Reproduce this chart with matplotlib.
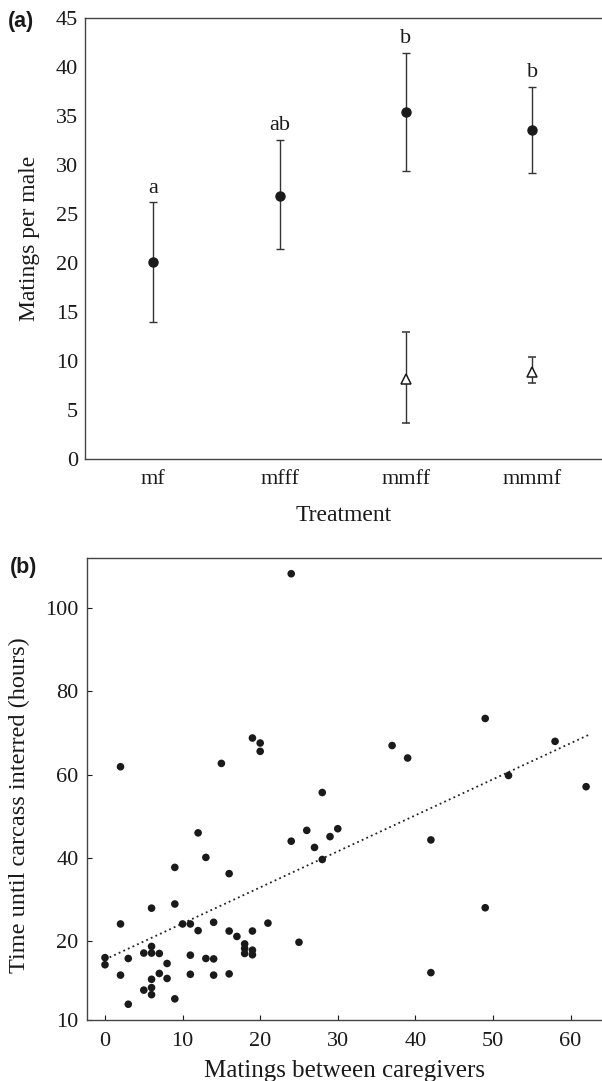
import matplotlib.pyplot as plt
import numpy as np

# ---- panel (a): matings per male by treatment ----
treatments = ['mf', 'mfff', 'mmff', 'mmmf']
male_mean = [20.1, 26.9, 35.4, 33.6]
male_lo = [14.05, 21.4, 29.4, 29.2]
male_hi = [26.25, 32.6, 41.45, 38.0]
sig_letters = ['a', 'ab', 'b', 'b']
letter_y = [27.2, 33.6, 42.5, 39.0]

tri_treatments = ['mmff', 'mmmf']
tri_mean = [8.2, 8.9]
tri_lo = [3.75, 7.8]
tri_hi = [13.0, 10.4]

# ---- panel (b): time to inter carcass vs matings between caregivers ----
matings = [0, 0, 2, 2, 2, 3, 3, 5, 5, 6, 6, 6, 6, 6, 6, 7, 7, 8, 8,
           9, 9, 9, 10, 11, 11, 11, 12, 12, 13, 13, 14, 14, 14, 15,
           16, 16, 16, 17, 18, 18, 18, 19, 19, 19, 19, 20, 20, 21,
           24, 24, 25, 26, 27, 28, 28, 29, 30, 37, 39, 42, 42, 49, 49,
           52, 58, 62]
hours = [16.0, 14.3, 61.9, 24.1, 11.8, 15.8, 4.8, 17.1, 8.2, 27.9, 18.7,
         17.1, 10.8, 8.8, 7.1, 17.0, 12.2, 14.6, 11.0, 37.7, 28.9, 6.1,
         24.1, 24.1, 16.6, 12.0, 46.0, 22.5, 40.1, 15.8, 24.5, 15.7, 11.8,
         62.7, 36.2, 22.4, 12.1, 21.1, 19.3, 18.2, 17.0, 68.8, 22.4, 17.8,
         16.7, 67.6, 65.6, 24.3, 108.3, 44.0, 19.7, 46.6, 42.5, 55.7, 39.6,
         45.1, 47.0, 67.0, 64.0, 44.3, 12.4, 73.5, 28.0, 59.8, 68.0, 57.1]

b_ytick_labels = ['10', '20', '40', '60', '80', '100']
b_xticks = [0, 10, 20, 30, 40, 50, 60]

plt.rcParams['font.family'] = ['Liberation Serif', 'DejaVu Serif']
ink = '#1a1a1a'
spine_col = '#444444'

fig = plt.figure(figsize=(6.02, 10.81), dpi=100)
ax1 = fig.add_axes([0.141, 0.5751, 0.859, 0.4082])
ax2 = fig.add_axes([0.1445, 0.0560, 0.8555, 0.4275])

# panel (a)
xpos = {t: i + 1 for i, t in enumerate(treatments)}
xa = np.array([xpos[t] for t in treatments])
mean = np.array(male_mean)
ax1.errorbar(xa, mean, yerr=[mean - np.array(male_lo), np.array(male_hi) - mean],
             fmt='o', ms=6.5, color=ink, ecolor='#333333', elinewidth=1.0,
             capsize=3, capthick=1.0)
xt = np.array([xpos[t] for t in tri_treatments])
tm = np.array(tri_mean)
ax1.errorbar(xt, tm, yerr=[tm - np.array(tri_lo), np.array(tri_hi) - tm],
             fmt='^', ms=7, mfc='white', mec=ink, mew=1.1, ecolor='#333333',
             elinewidth=1.0, capsize=3, capthick=1.0, zorder=3)
for x, y, s in zip(xa, letter_y, sig_letters):
    ax1.text(x, y, s, ha='center', va='baseline', fontsize=16, color=ink)

ax1.set_xlim(0.46, 4.55)
ax1.set_ylim(0, 45)
ax1.set_yticks(np.arange(0, 46, 5))
ax1.set_xticks(xa)
ax1.set_xticklabels(treatments)
ax1.tick_params(axis='both', length=0, labelsize=16, colors=ink)
ax1.tick_params(axis='y', pad=5)
ax1.tick_params(axis='x', pad=8)
ax1.set_xlabel('Treatment', fontsize=17, color=ink)
ax1.xaxis.set_label_coords(0.5, -0.1036)
ax1.set_ylabel('Matings per male', fontsize=17, color=ink)
ax1.yaxis.set_label_coords(-0.087, 0.5)

# panel (b)
ax2.scatter(matings, hours, s=30, color=ink, edgecolors='none', zorder=3)
coef = np.polyfit(matings, hours, 1)
xl = np.array([min(matings), max(matings) + 0.5])
ax2.plot(xl, np.polyval(coef, xl), color='#222222', lw=1.3,
         linestyle=(0, (1, 1.8)))

ax2.set_xlim(-2.32, 64.05)
ax2.set_ylim(0.9, 112)
ax2.set_xticks(b_xticks)
ax2.set_yticks([0.9, 20, 40, 60, 80, 100])
ax2.set_yticklabels(b_ytick_labels)
ax2.tick_params(axis='both', direction='in', length=3.5, width=0.8,
                labelsize=16, colors=ink)
ax2.tick_params(axis='y', pad=6)
ax2.tick_params(axis='x', pad=8)
ax2.set_xlabel('Matings between caregivers', fontsize=18, color=ink)
ax2.xaxis.set_label_coords(0.5, -0.0855)
ax2.set_ylabel('Time until carcass interred (hours)', fontsize=17.5, color=ink)
ax2.yaxis.set_label_coords(-0.111, 0.467)

for ax in (ax1, ax2):
    ax.spines['right'].set_visible(False)
    for side in ('left', 'bottom', 'top'):
        ax.spines[side].set_color(spine_col)
        ax.spines[side].set_linewidth(1.0)

fig.text(21 / 602, 1 - 21 / 1081, '(a)', ha='center', va='center',
         fontsize=15.5, fontweight='bold', family='Liberation Sans', color=ink)
fig.text(23.5 / 602, 1 - 568 / 1081, '(b)', ha='center', va='center',
         fontsize=15.5, fontweight='bold', family='Liberation Sans', color=ink)

fig.savefig('out.png', dpi=100)
